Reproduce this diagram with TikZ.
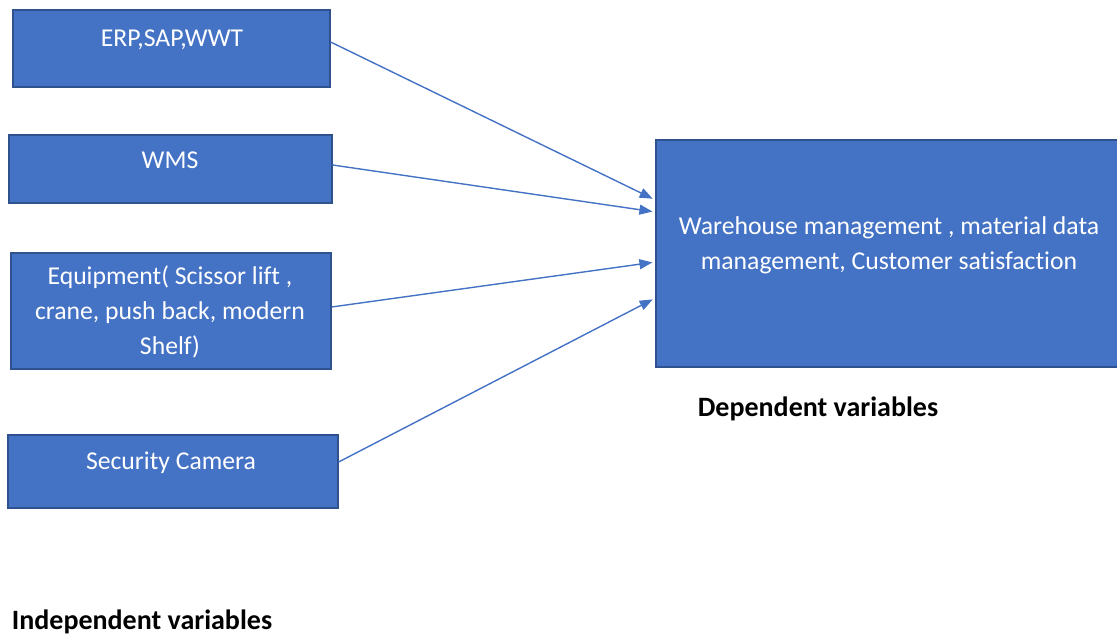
\documentclass[tikz,border=0pt]{standalone}
\usepackage{fontspec}
\setmainfont[Ligatures=NoCommon]{Carlito}
\usetikzlibrary{arrows.meta, positioning}

\definecolor{boxblue}{HTML}{4472C4}
\definecolor{edgeblue}{HTML}{2F528F}

\begin{document}
\begin{tikzpicture}[x=1pt,y=-1pt,
  varbox/.style={draw=edgeblue, line width=1.2pt, fill=boxblue, inner sep=0pt},
  boxtext/.style={text=white, align=center, font=\fontsize{25.7}{35}\selectfont},
  caption/.style={font=\fontsize{28}{32}\selectfont\bfseries, anchor=base},
  link/.style={draw=boxblue, line width=1.4pt, -{Triangle[length=13pt,width=10pt]}, shorten >=3pt}]
\useasboundingbox (0,0) rectangle (1117,636);
% independent variables
\node [varbox, minimum width=317pt, minimum height=77pt]  (erp) at (171.5,48.5)  {};
\node [varbox, minimum width=323pt, minimum height=68pt]  (wms) at (170.5,169)   {};
\node [varbox, minimum width=320pt, minimum height=116pt] (eqp) at (171,311)     {};
\node [varbox, minimum width=330pt, minimum height=73pt]  (cam) at (173,471.5)   {};
\node [boxtext] (erptxt) at (172,40)  {ERP,SAP,WWT};
\node [boxtext] (wmstxt) at (170,160) {WMS};
\node [boxtext] (eqptxt) at (170,312) {Equipment( Scissor lift ,\\ crane, push back, modern\\ Shelf)};
\node [boxtext] (camtxt) at (171,463) {Security Camera};
% dependent variable
\node [varbox, minimum width=463pt, minimum height=227pt] (dep) at (887.5,253.5) {};
\node [boxtext] (deptxt) at (889,245) {Warehouse management , material data\\ management, Customer satisfaction};
% captions
\node [caption] (deplbl) at (818,416) {Dependent variables};
\node [caption] (indlbl) at (142,629) {Independent variables};
% links
\draw [link] ([yshift=6.5pt]erp.east) -- ([yshift=53.5pt]dep.west);
\draw [link] ([yshift=4pt]wms.east)   -- ([yshift=41.5pt]dep.west);
\draw [link] ([yshift=4pt]eqp.east)   -- ([yshift=-8.5pt]dep.west);
\draw [link] ([yshift=9.5pt]cam.east) -- ([yshift=-44.5pt]dep.west);
\end{tikzpicture}
\end{document}
